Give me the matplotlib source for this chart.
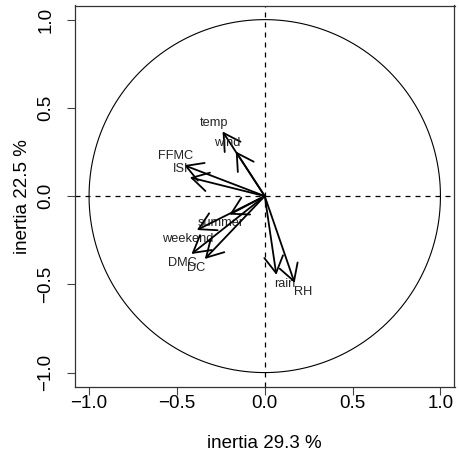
import numpy as np
import matplotlib
matplotlib.use("Agg")
import matplotlib.pyplot as plt

# correlations of the variables with the first two axes
variables = ["temp", "wind", "FFMC", "ISI", "summer", "weekend", "DMC", "DC", "rain", "RH"]
dim1 = [-0.240, -0.165, -0.459, -0.426, -0.201, -0.386, -0.417, -0.341, 0.066, 0.170]
dim2 = [0.366, 0.253, 0.175, 0.106, -0.105, -0.192, -0.328, -0.356, -0.446, -0.492]
inertia = [29.3, 22.5]
ticks = [-1.0, -0.5, 0.0, 0.5, 1.0]

plt.rcParams["font.family"] = ["Liberation Sans", "DejaVu Sans"]

fig = plt.figure(figsize=(4.59, 4.55), dpi=100)
ax = fig.add_axes([75 / 459, 1 - 386.7 / 455, 379.5 / 459, 381.2 / 455])

lim = 1.08
ax.set_xlim(-lim, lim)
ax.set_ylim(-lim, lim)

# unit circle and the two dashed axes
t = np.linspace(0, 2 * np.pi, 400)
ax.plot(np.cos(t), np.sin(t), color="black", lw=0.8)
ax.axhline(0, color="black", lw=0.9, ls=(0, (4, 4)))
ax.axvline(0, color="black", lw=0.9, ls=(0, (4, 4)))

# arrows and labels
for name, x, y in zip(variables, dim1, dim2):
    ax.annotate("", xy=(x, y), xytext=(0, 0),
                arrowprops=dict(arrowstyle="->,head_length=1.19,head_width=0.68",
                                lw=1.3, color="black", shrinkA=0, shrinkB=0,
                                mutation_scale=10))
    ax.text(x + 0.05 * np.sign(x), y + 0.05 * np.sign(y), name,
            ha="center", va="center", fontsize=9.2, color="#222222")

ax.set_xticks(ticks)
ax.set_yticks(ticks)
ax.set_xticklabels([f"{v:.1f}".replace("-", "\u2212") for v in ticks])
ax.set_yticklabels([f"{v:.1f}".replace("-", "\u2212") for v in ticks],
                   rotation=90, va="center")
ax.tick_params(axis="both", labelsize=13.5, length=5.8, width=0.8, color="#444444")
ax.tick_params(axis="x", pad=0.5)
ax.tick_params(axis="y", pad=9)

ax.set_xlabel(f"inertia {inertia[0]} %", fontsize=13.5, va="center")
ax.xaxis.set_label_coords(0.5, -0.1477)
ax.set_ylabel(f"inertia {inertia[1]} %", fontsize=13.5, va="center")
ax.yaxis.set_label_coords(-0.1383, 0.5)

for s in ax.spines.values():
    s.set_linewidth(0.9)
    s.set_color("#333333")

fig.savefig("out.png", dpi=100)
